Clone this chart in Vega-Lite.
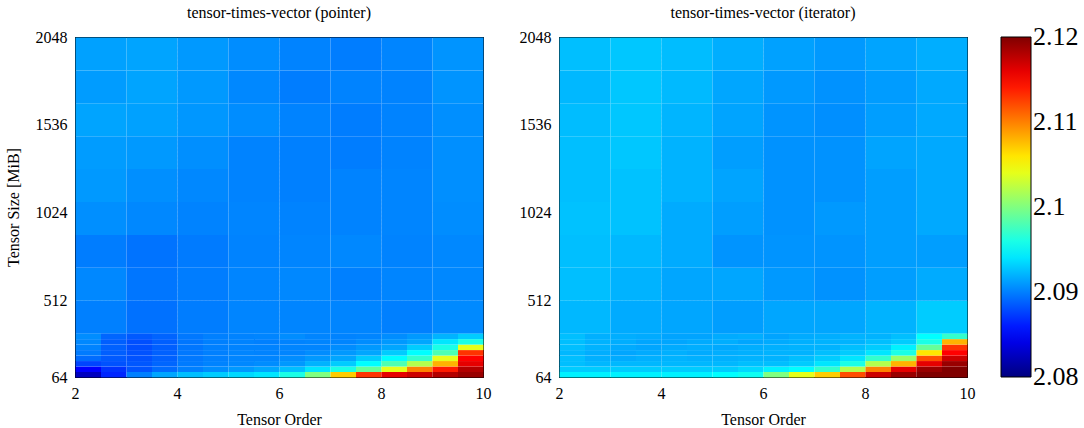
{
  "$schema": "https://vega.github.io/schema/vega-lite/v6.json",
  "background": "white",
  "padding": {"left": 4, "top": 4, "right": 4, "bottom": 1},
  "datasets": {
    "pLo": [
      {"o":2,"s":64,"v":2.0825},{"o":2.5,"s":64,"v":2.0865},{"o":3,"s":64,"v":2.09},{"o":3.5,"s":64,"v":2.0915},{"o":4,"s":64,"v":2.0925},{"o":4.5,"s":64,"v":2.093},{"o":5,"s":64,"v":2.0935},{"o":5.5,"s":64,"v":2.094},{"o":6,"s":64,"v":2.096},{"o":6.5,"s":64,"v":2.1},{"o":7,"s":64,"v":2.107},{"o":7.5,"s":64,"v":2.113},{"o":8,"s":64,"v":2.116},{"o":8.5,"s":64,"v":2.117},{"o":9,"s":64,"v":2.118},{"o":9.5,"s":64,"v":2.119},
      {"o":2,"s":96,"v":2.085},{"o":2.5,"s":96,"v":2.087},{"o":3,"s":96,"v":2.0883},{"o":3.5,"s":96,"v":2.0892},{"o":4,"s":96,"v":2.09},{"o":4.5,"s":96,"v":2.0905},{"o":5,"s":96,"v":2.091},{"o":5.5,"s":96,"v":2.0915},{"o":6,"s":96,"v":2.0925},{"o":6.5,"s":96,"v":2.094},{"o":7,"s":96,"v":2.096},{"o":7.5,"s":96,"v":2.099},{"o":8,"s":96,"v":2.104},{"o":8.5,"s":96,"v":2.11},{"o":9,"s":96,"v":2.114},{"o":9.5,"s":96,"v":2.118},
      {"o":2,"s":128,"v":2.0877},{"o":2.5,"s":128,"v":2.0882},{"o":3,"s":128,"v":2.0884},{"o":3.5,"s":128,"v":2.089},{"o":4,"s":128,"v":2.0898},{"o":4.5,"s":128,"v":2.0901},{"o":5,"s":128,"v":2.0903},{"o":5.5,"s":128,"v":2.0905},{"o":6,"s":128,"v":2.091},{"o":6.5,"s":128,"v":2.092},{"o":7,"s":128,"v":2.093},{"o":7.5,"s":128,"v":2.095},{"o":8,"s":128,"v":2.098},{"o":8.5,"s":128,"v":2.102},{"o":9,"s":128,"v":2.108},{"o":9.5,"s":128,"v":2.116},
      {"o":2,"s":160,"v":2.0892},{"o":2.5,"s":160,"v":2.0885},{"o":3,"s":160,"v":2.0882},{"o":3.5,"s":160,"v":2.0888},{"o":4,"s":160,"v":2.0897},{"o":4.5,"s":160,"v":2.09},{"o":5,"s":160,"v":2.0902},{"o":5.5,"s":160,"v":2.0902},{"o":6,"s":160,"v":2.0905},{"o":6.5,"s":160,"v":2.091},{"o":7,"s":160,"v":2.0915},{"o":7.5,"s":160,"v":2.093},{"o":8,"s":160,"v":2.095},{"o":8.5,"s":160,"v":2.097},{"o":9,"s":160,"v":2.104},{"o":9.5,"s":160,"v":2.115},
      {"o":2,"s":192,"v":2.0898},{"o":2.5,"s":192,"v":2.0887},{"o":3,"s":192,"v":2.0882},{"o":3.5,"s":192,"v":2.0888},{"o":4,"s":192,"v":2.0897},{"o":4.5,"s":192,"v":2.09},{"o":5,"s":192,"v":2.0902},{"o":5.5,"s":192,"v":2.0901},{"o":6,"s":192,"v":2.0902},{"o":6.5,"s":192,"v":2.0905},{"o":7,"s":192,"v":2.091},{"o":7.5,"s":192,"v":2.0915},{"o":8,"s":192,"v":2.093},{"o":8.5,"s":192,"v":2.095},{"o":9,"s":192,"v":2.098},{"o":9.5,"s":192,"v":2.113},
      {"o":2,"s":224,"v":2.0901},{"o":2.5,"s":224,"v":2.0888},{"o":3,"s":224,"v":2.0881},{"o":3.5,"s":224,"v":2.0887},{"o":4,"s":224,"v":2.0896},{"o":4.5,"s":224,"v":2.09},{"o":5,"s":224,"v":2.0901},{"o":5.5,"s":224,"v":2.0901},{"o":6,"s":224,"v":2.0902},{"o":6.5,"s":224,"v":2.0902},{"o":7,"s":224,"v":2.0905},{"o":7.5,"s":224,"v":2.091},{"o":8,"s":224,"v":2.0915},{"o":8.5,"s":224,"v":2.093},{"o":9,"s":224,"v":2.096},{"o":9.5,"s":224,"v":2.104},
      {"o":2,"s":256,"v":2.0903},{"o":2.5,"s":256,"v":2.0887},{"o":3,"s":256,"v":2.0881},{"o":3.5,"s":256,"v":2.0887},{"o":4,"s":256,"v":2.0896},{"o":4.5,"s":256,"v":2.09},{"o":5,"s":256,"v":2.0901},{"o":5.5,"s":256,"v":2.09},{"o":6,"s":256,"v":2.0901},{"o":6.5,"s":256,"v":2.0902},{"o":7,"s":256,"v":2.0902},{"o":7.5,"s":256,"v":2.0905},{"o":8,"s":256,"v":2.091},{"o":8.5,"s":256,"v":2.0915},{"o":9,"s":256,"v":2.094},{"o":9.5,"s":256,"v":2.096},
      {"o":2,"s":288,"v":2.0905},{"o":2.5,"s":288,"v":2.089},{"o":3,"s":288,"v":2.0885},{"o":3.5,"s":288,"v":2.0889},{"o":4,"s":288,"v":2.0897},{"o":4.5,"s":288,"v":2.09},{"o":5,"s":288,"v":2.0901},{"o":5.5,"s":288,"v":2.0902},{"o":6,"s":288,"v":2.0905},{"o":6.5,"s":288,"v":2.0902},{"o":7,"s":288,"v":2.0901},{"o":7.5,"s":288,"v":2.0902},{"o":8,"s":288,"v":2.0905},{"o":8.5,"s":288,"v":2.091},{"o":9,"s":288,"v":2.092},{"o":9.5,"s":288,"v":2.093}
    ],
    "pHi": [
      {"o":2,"s":320,"v":2.09},{"o":3,"s":320,"v":2.0894},{"o":4,"s":320,"v":2.0899},{"o":5,"s":320,"v":2.0902},{"o":6,"s":320,"v":2.0902},{"o":7,"s":320,"v":2.0902},{"o":8,"s":320,"v":2.09},{"o":9,"s":320,"v":2.0904},
      {"o":2,"s":512,"v":2.0903},{"o":3,"s":512,"v":2.0896},{"o":4,"s":512,"v":2.0899},{"o":5,"s":512,"v":2.0902},{"o":6,"s":512,"v":2.0903},{"o":7,"s":512,"v":2.09},{"o":8,"s":512,"v":2.0902},{"o":9,"s":512,"v":2.0903},
      {"o":2,"s":704,"v":2.0899},{"o":3,"s":704,"v":2.0895},{"o":4,"s":704,"v":2.0898},{"o":5,"s":704,"v":2.0901},{"o":6,"s":704,"v":2.0902},{"o":7,"s":704,"v":2.0903},{"o":8,"s":704,"v":2.0901},{"o":9,"s":704,"v":2.0903},
      {"o":2,"s":896,"v":2.0906},{"o":3,"s":896,"v":2.0903},{"o":4,"s":896,"v":2.0901},{"o":5,"s":896,"v":2.0902},{"o":6,"s":896,"v":2.0901},{"o":7,"s":896,"v":2.0901},{"o":8,"s":896,"v":2.0902},{"o":9,"s":896,"v":2.0905},
      {"o":2,"s":1088,"v":2.091},{"o":3,"s":1088,"v":2.0906},{"o":4,"s":1088,"v":2.0903},{"o":5,"s":1088,"v":2.0901},{"o":6,"s":1088,"v":2.09},{"o":7,"s":1088,"v":2.0901},{"o":8,"s":1088,"v":2.0902},{"o":9,"s":1088,"v":2.0906},
      {"o":2,"s":1280,"v":2.0911},{"o":3,"s":1280,"v":2.091},{"o":4,"s":1280,"v":2.0906},{"o":5,"s":1280,"v":2.0901},{"o":6,"s":1280,"v":2.09},{"o":7,"s":1280,"v":2.0899},{"o":8,"s":1280,"v":2.0901},{"o":9,"s":1280,"v":2.0906},
      {"o":2,"s":1472,"v":2.0914},{"o":3,"s":1472,"v":2.0913},{"o":4,"s":1472,"v":2.0909},{"o":5,"s":1472,"v":2.0905},{"o":6,"s":1472,"v":2.0901},{"o":7,"s":1472,"v":2.0899},{"o":8,"s":1472,"v":2.0901},{"o":9,"s":1472,"v":2.0906},
      {"o":2,"s":1664,"v":2.0911},{"o":3,"s":1664,"v":2.0914},{"o":4,"s":1664,"v":2.091},{"o":5,"s":1664,"v":2.0903},{"o":6,"s":1664,"v":2.0899},{"o":7,"s":1664,"v":2.0901},{"o":8,"s":1664,"v":2.0901},{"o":9,"s":1664,"v":2.0908},
      {"o":2,"s":1856,"v":2.0913},{"o":3,"s":1856,"v":2.0914},{"o":4,"s":1856,"v":2.091},{"o":5,"s":1856,"v":2.0905},{"o":6,"s":1856,"v":2.0901},{"o":7,"s":1856,"v":2.0899},{"o":8,"s":1856,"v":2.0902},{"o":9,"s":1856,"v":2.0908}
    ],
    "iLo": [
      {"o":2,"s":64,"v":2.0945},{"o":2.5,"s":64,"v":2.0945},{"o":3,"s":64,"v":2.0945},{"o":3.5,"s":64,"v":2.0945},{"o":4,"s":64,"v":2.0945},{"o":4.5,"s":64,"v":2.0945},{"o":5,"s":64,"v":2.095},{"o":5.5,"s":64,"v":2.0955},{"o":6,"s":64,"v":2.1},{"o":6.5,"s":64,"v":2.104},{"o":7,"s":64,"v":2.107},{"o":7.5,"s":64,"v":2.112},{"o":8,"s":64,"v":2.117},{"o":8.5,"s":64,"v":2.119},{"o":9,"s":64,"v":2.12},{"o":9.5,"s":64,"v":2.12},
      {"o":2,"s":96,"v":2.093},{"o":2.5,"s":96,"v":2.093},{"o":3,"s":96,"v":2.093},{"o":3.5,"s":96,"v":2.093},{"o":4,"s":96,"v":2.093},{"o":4.5,"s":96,"v":2.093},{"o":5,"s":96,"v":2.093},{"o":5.5,"s":96,"v":2.0935},{"o":6,"s":96,"v":2.0945},{"o":6.5,"s":96,"v":2.095},{"o":7,"s":96,"v":2.097},{"o":7.5,"s":96,"v":2.102},{"o":8,"s":96,"v":2.11},{"o":8.5,"s":96,"v":2.116},{"o":9,"s":96,"v":2.119},{"o":9.5,"s":96,"v":2.12},
      {"o":2,"s":128,"v":2.0925},{"o":2.5,"s":128,"v":2.0922},{"o":3,"s":128,"v":2.0922},{"o":3.5,"s":128,"v":2.0922},{"o":4,"s":128,"v":2.0922},{"o":4.5,"s":128,"v":2.0922},{"o":5,"s":128,"v":2.0922},{"o":5.5,"s":128,"v":2.0925},{"o":6,"s":128,"v":2.0925},{"o":6.5,"s":128,"v":2.093},{"o":7,"s":128,"v":2.094},{"o":7.5,"s":128,"v":2.096},{"o":8,"s":128,"v":2.102},{"o":8.5,"s":128,"v":2.108},{"o":9,"s":128,"v":2.116},{"o":9.5,"s":128,"v":2.119},
      {"o":2,"s":160,"v":2.0925},{"o":2.5,"s":160,"v":2.0919},{"o":3,"s":160,"v":2.0917},{"o":3.5,"s":160,"v":2.0919},{"o":4,"s":160,"v":2.092},{"o":4.5,"s":160,"v":2.0919},{"o":5,"s":160,"v":2.0919},{"o":5.5,"s":160,"v":2.092},{"o":6,"s":160,"v":2.092},{"o":6.5,"s":160,"v":2.0925},{"o":7,"s":160,"v":2.093},{"o":7.5,"s":160,"v":2.094},{"o":8,"s":160,"v":2.097},{"o":8.5,"s":160,"v":2.101},{"o":9,"s":160,"v":2.112},{"o":9.5,"s":160,"v":2.117},
      {"o":2,"s":192,"v":2.0922},{"o":2.5,"s":192,"v":2.0918},{"o":3,"s":192,"v":2.0915},{"o":3.5,"s":192,"v":2.0917},{"o":4,"s":192,"v":2.0919},{"o":4.5,"s":192,"v":2.0917},{"o":5,"s":192,"v":2.0918},{"o":5.5,"s":192,"v":2.0919},{"o":6,"s":192,"v":2.092},{"o":6.5,"s":192,"v":2.092},{"o":7,"s":192,"v":2.0925},{"o":7.5,"s":192,"v":2.093},{"o":8,"s":192,"v":2.094},{"o":8.5,"s":192,"v":2.096},{"o":9,"s":192,"v":2.106},{"o":9.5,"s":192,"v":2.115},
      {"o":2,"s":224,"v":2.0925},{"o":2.5,"s":224,"v":2.092},{"o":3,"s":224,"v":2.0917},{"o":3.5,"s":224,"v":2.0915},{"o":4,"s":224,"v":2.0917},{"o":4.5,"s":224,"v":2.0918},{"o":5,"s":224,"v":2.0916},{"o":5.5,"s":224,"v":2.0918},{"o":6,"s":224,"v":2.0919},{"o":6.5,"s":224,"v":2.092},{"o":7,"s":224,"v":2.092},{"o":7.5,"s":224,"v":2.0925},{"o":8,"s":224,"v":2.093},{"o":8.5,"s":224,"v":2.0945},{"o":9,"s":224,"v":2.099},{"o":9.5,"s":224,"v":2.113},
      {"o":2,"s":256,"v":2.0925},{"o":2.5,"s":256,"v":2.092},{"o":3,"s":256,"v":2.0918},{"o":3.5,"s":256,"v":2.0915},{"o":4,"s":256,"v":2.0915},{"o":4.5,"s":256,"v":2.0917},{"o":5,"s":256,"v":2.0918},{"o":5.5,"s":256,"v":2.0915},{"o":6,"s":256,"v":2.0917},{"o":6.5,"s":256,"v":2.0919},{"o":7,"s":256,"v":2.092},{"o":7.5,"s":256,"v":2.092},{"o":8,"s":256,"v":2.0925},{"o":8.5,"s":256,"v":2.093},{"o":9,"s":256,"v":2.096},{"o":9.5,"s":256,"v":2.108},
      {"o":2,"s":288,"v":2.0925},{"o":2.5,"s":288,"v":2.0919},{"o":3,"s":288,"v":2.0918},{"o":3.5,"s":288,"v":2.0917},{"o":4,"s":288,"v":2.0914},{"o":4.5,"s":288,"v":2.0914},{"o":5,"s":288,"v":2.0917},{"o":5.5,"s":288,"v":2.0918},{"o":6,"s":288,"v":2.0914},{"o":6.5,"s":288,"v":2.0917},{"o":7,"s":288,"v":2.0918},{"o":7.5,"s":288,"v":2.092},{"o":8,"s":288,"v":2.092},{"o":8.5,"s":288,"v":2.0925},{"o":9,"s":288,"v":2.095},{"o":9.5,"s":288,"v":2.097}
    ],
    "iHi": [
      {"o":2,"s":320,"v":2.0922},{"o":3,"s":320,"v":2.0917},{"o":4,"s":320,"v":2.0915},{"o":5,"s":320,"v":2.0912},{"o":6,"s":320,"v":2.0915},{"o":7,"s":320,"v":2.0915},{"o":8,"s":320,"v":2.092},{"o":9,"s":320,"v":2.093},
      {"o":2,"s":512,"v":2.0925},{"o":3,"s":512,"v":2.092},{"o":4,"s":512,"v":2.0915},{"o":5,"s":512,"v":2.0915},{"o":6,"s":512,"v":2.091},{"o":7,"s":512,"v":2.0907},{"o":8,"s":512,"v":2.0912},{"o":9,"s":512,"v":2.0917},
      {"o":2,"s":704,"v":2.0925},{"o":3,"s":704,"v":2.0922},{"o":4,"s":704,"v":2.0917},{"o":5,"s":704,"v":2.0908},{"o":6,"s":704,"v":2.0908},{"o":7,"s":704,"v":2.0908},{"o":8,"s":704,"v":2.0912},{"o":9,"s":704,"v":2.0912},
      {"o":2,"s":896,"v":2.0926},{"o":3,"s":896,"v":2.0926},{"o":4,"s":896,"v":2.0917},{"o":5,"s":896,"v":2.0912},{"o":6,"s":896,"v":2.0907},{"o":7,"s":896,"v":2.091},{"o":8,"s":896,"v":2.0912},{"o":9,"s":896,"v":2.0916},
      {"o":2,"s":1088,"v":2.0925},{"o":3,"s":1088,"v":2.0926},{"o":4,"s":1088,"v":2.092},{"o":5,"s":1088,"v":2.0914},{"o":6,"s":1088,"v":2.0907},{"o":7,"s":1088,"v":2.0907},{"o":8,"s":1088,"v":2.0912},{"o":9,"s":1088,"v":2.0916},
      {"o":2,"s":1280,"v":2.0925},{"o":3,"s":1280,"v":2.0928},{"o":4,"s":1280,"v":2.092},{"o":5,"s":1280,"v":2.0912},{"o":6,"s":1280,"v":2.0907},{"o":7,"s":1280,"v":2.0907},{"o":8,"s":1280,"v":2.0914},{"o":9,"s":1280,"v":2.0916},
      {"o":2,"s":1472,"v":2.0924},{"o":3,"s":1472,"v":2.0928},{"o":4,"s":1472,"v":2.0921},{"o":5,"s":1472,"v":2.0914},{"o":6,"s":1472,"v":2.0908},{"o":7,"s":1472,"v":2.0906},{"o":8,"s":1472,"v":2.0912},{"o":9,"s":1472,"v":2.0916},
      {"o":2,"s":1664,"v":2.0922},{"o":3,"s":1664,"v":2.0928},{"o":4,"s":1664,"v":2.0923},{"o":5,"s":1664,"v":2.0915},{"o":6,"s":1664,"v":2.091},{"o":7,"s":1664,"v":2.0907},{"o":8,"s":1664,"v":2.0911},{"o":9,"s":1664,"v":2.0916},
      {"o":2,"s":1856,"v":2.0925},{"o":3,"s":1856,"v":2.0928},{"o":4,"s":1856,"v":2.0924},{"o":5,"s":1856,"v":2.0918},{"o":6,"s":1856,"v":2.0913},{"o":7,"s":1856,"v":2.091},{"o":8,"s":1856,"v":2.0914},{"o":9,"s":1856,"v":2.0918}
    ]
  },
  "config": {
    "font": "Liberation Serif",
    "view": {"stroke": "black", "strokeWidth": 1},
    "style": {
      "guide-label": {"font": "Liberation Serif", "fill": "black"},
      "guide-title": {"font": "Liberation Serif", "fill": "black", "fontWeight": "normal"},
      "group-title": {"font": "Liberation Serif", "fontWeight": "normal"}
    },
    "axis": {
      "labelFont": "Liberation Serif", "labelFontSize": 16, "labelColor": "black", "labelFlush": false,
      "titleFont": "Liberation Serif", "titleFontSize": 16, "titleFontWeight": "normal", "titleColor": "black",
      "ticks": false, "domain": true, "domainColor": "black", "domainWidth": 1,
      "gridColor": "#d8d8d8", "gridDash": [1, 3], "gridWidth": 1,
      "zindex": 1, "labelPadding": 8
    },
    "axisX": {"titlePadding": 10},
    "axisY": {"titlePadding": 14},
    "title": {"font": "Liberation Serif", "fontSize": 16, "fontWeight": "normal", "color": "black", "offset": 8},
    "legend": {
      "gradientLength": 340, "gradientThickness": 30, "gradientStrokeColor": "black", "gradientStrokeWidth": 1,
      "labelFont": "Liberation Serif", "labelFontSize": 26, "labelColor": "black", "labelOffset": 9, "labelOverlap": false,
      "offset": 34, "padding": 0
    }
  },
  "resolve": {"scale": {"color": "shared"}, "legend": {"color": "independent"}},
  "spacing": 26,
  "hconcat": [
    {
      "title": "tensor-times-vector (pointer)",
      "width": 408, "height": 340,
      "resolve": {"axis": {"x": "independent", "y": "independent"}},
      "layer": [
        {
          "data": {"name": "pHi"},
          "mark": {"type": "rect", "binSpacing": 0},
          "encoding": {
            "x": {"field": "o", "type": "quantitative", "bin": {"binned": true, "step": 1}, "scale": {"domain": [2, 10], "nice": false},
                  "axis": {"title": "Tensor Order", "values": [2, 4, 6, 8, 10], "format": "d", "labelFont": "Liberation Serif", "titleFont": "Liberation Serif", "domain": true, "domainColor": "black", "grid": true, "gridOpacity": {"condition": {"test": "datum.value <= 2 || datum.value >= 10", "value": 0}, "value": 1}}},
            "y": {"field": "s", "type": "quantitative", "bin": {"binned": true, "step": 192}, "scale": {"domain": [64, 2048], "nice": false},
                  "axis": {"title": "Tensor Size [MiB]", "values": [64, 512, 1024, 1536, 2048], "format": "d", "labelFont": "Liberation Serif", "titleFont": "Liberation Serif", "domain": true, "domainColor": "black", "grid": true, "gridOpacity": {"condition": {"test": "datum.value <= 64 || datum.value >= 2048", "value": 0}, "value": 1}}},
            "color": {"field": "v", "type": "quantitative", "scale": {"domain": [2.08, 2.085, 2.09, 2.095, 2.1, 2.105, 2.11, 2.115, 2.12], "range": ["#00007f", "#0000ff", "#0080ff", "#00ffff", "#80ff80", "#ffff00", "#ff8000", "#ff0000", "#800000"], "interpolate": "rgb", "clamp": true}, "legend": null}
          }
        },
        {
          "data": {"name": "pLo"},
          "mark": {"type": "rect", "binSpacing": 0},
          "encoding": {
            "x": {"field": "o", "type": "quantitative", "bin": {"binned": true, "step": 0.5}, "axis": {"orient": "top", "title": null, "labels": false, "grid": false, "domain": true, "domainColor": "black", "values": [2, 10]}},
            "y": {"field": "s", "type": "quantitative", "bin": {"binned": true, "step": 32}, "axis": {"orient": "right", "title": null, "labels": false, "grid": false, "domain": true, "domainColor": "black", "values": [64, 2048]}},
            "color": {"field": "v", "type": "quantitative", "legend": null}
          }
        }
      ]
    },
    {
      "title": "tensor-times-vector (iterator)",
      "width": 408, "height": 340,
      "resolve": {"axis": {"x": "independent", "y": "independent"}},
      "layer": [
        {
          "data": {"name": "iHi"},
          "mark": {"type": "rect", "binSpacing": 0},
          "encoding": {
            "x": {"field": "o", "type": "quantitative", "bin": {"binned": true, "step": 1}, "scale": {"domain": [2, 10], "nice": false},
                  "axis": {"title": "Tensor Order", "values": [2, 4, 6, 8, 10], "format": "d", "labelFont": "Liberation Serif", "titleFont": "Liberation Serif", "domain": true, "domainColor": "black", "grid": true, "gridOpacity": {"condition": {"test": "datum.value <= 2 || datum.value >= 10", "value": 0}, "value": 1}}},
            "y": {"field": "s", "type": "quantitative", "bin": {"binned": true, "step": 192}, "scale": {"domain": [64, 2048], "nice": false},
                  "axis": {"title": null, "values": [64, 512, 1024, 1536, 2048], "format": "d", "labelFont": "Liberation Serif", "domain": true, "domainColor": "black", "grid": true, "gridOpacity": {"condition": {"test": "datum.value <= 64 || datum.value >= 2048", "value": 0}, "value": 1}}},
            "color": {"field": "v", "type": "quantitative",
                      "legend": {"title": null, "values": [2.08, 2.09, 2.1, 2.11, 2.12], "format": ".2~f", "labelFont": "Liberation Serif", "encode": {"labels": {"update": {"baseline": {"value": "middle"}}}}}}
          }
        },
        {
          "data": {"name": "iLo"},
          "mark": {"type": "rect", "binSpacing": 0},
          "encoding": {
            "x": {"field": "o", "type": "quantitative", "bin": {"binned": true, "step": 0.5}, "axis": {"orient": "top", "title": null, "labels": false, "grid": false, "domain": true, "domainColor": "black", "values": [2, 10]}},
            "y": {"field": "s", "type": "quantitative", "bin": {"binned": true, "step": 32}, "axis": {"orient": "right", "title": null, "labels": false, "grid": false, "domain": true, "domainColor": "black", "values": [64, 2048]}},
            "color": {"field": "v", "type": "quantitative",
                      "legend": {"title": null, "values": [2.08, 2.09, 2.1, 2.11, 2.12], "format": ".2~f", "labelFont": "Liberation Serif", "encode": {"labels": {"update": {"baseline": {"value": "middle"}}}}}}
          }
        }
      ]
    }
  ]
}
